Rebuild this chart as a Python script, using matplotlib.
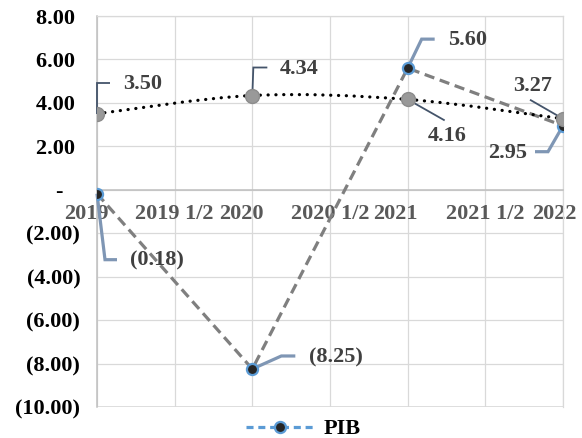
import matplotlib
matplotlib.use("Agg")
import matplotlib.pyplot as plt
import numpy as np
from matplotlib.lines import Line2D
from matplotlib.path import Path
from matplotlib.patches import PathPatch
from matplotlib.transforms import IdentityTransform, ScaledTranslation

plt.rcParams['font.family'] = ['Liberation Serif', 'DejaVu Serif']
plt.rcParams['font.weight'] = 'bold'

years = [2019, 2020, 2021, 2022]
pib = [-0.18, -8.25, 5.60, 2.95]
trend = [3.50, 4.34, 4.16, 3.27]

x_ticks = [2019, 2019.5, 2020, 2020.5, 2021, 2021.5, 2022]
x_labels = ["2019", "2019 1/2", "2020", "2020 1/2", "2021", "2021 1/2", "2022"]
x_label_shift = [-11, 0, -11, 0, -12, 0, -9]  # px, integer years sit left of the tick
y_ticks = [-10, -8, -6, -4, -2, 0, 2, 4, 6, 8]

# leader lines and label placement, pixel offsets from the point (y down)
pib_leaders = [
    [(0, 0), (8, 66), (20, 66)],
    [(0, 0), (29, -13), (43, -13)],
    [(0, 0), (14, -29), (27, -29)],
    [(0, 0), (-15, 26), (-28, 26)],
]
pib_text = [(33, 67, 'left'), (57, -12, 'left'), (40, -28, 'left'), (-36, 27, 'right')]
trend_leaders = [
    [(0, 0), (0, -31), (13, -31)],
    [(0, 0), (1, -28), (15, -28)],
    [(0, 0), (37, 21)],
    [(0, 0), (-33, -19)],
]
trend_text = [(26, -30, 'left'), (27, -27, 'left'), (20, 37, 'left'), (-11, -33, 'right')]

FS = 16


def acct(v):
    if abs(v) < 1e-9:
        return "-   "
    if v < 0:
        return "(%.2f)" % abs(v)
    return "%.2f " % v


def smooth_path(xs, ys):
    # catmull-rom through the points, as cubic bezier segments
    p = np.column_stack([xs, ys]).astype(float)
    ext = np.vstack([p[0], p, p[-1]])
    verts = [p[0]]
    codes = [Path.MOVETO]
    for i in range(len(p) - 1):
        p0, p1, p2, p3 = ext[i], ext[i + 1], ext[i + 2], ext[i + 3]
        c1 = p1 + (p2 - p0) / 6.0
        c2 = p2 - (p3 - p1) / 6.0
        verts += [c1, c2, p2]
        codes += [Path.CURVE4] * 3
    return Path(verts, codes)


def leader(ax, x, y, pts, color, lw):
    px, py = ax.transData.transform((x, y))
    xs = [px + d[0] for d in pts]
    ys = [py - d[1] for d in pts]
    ax.add_line(Line2D(xs, ys, transform=IdentityTransform(), color=color,
                       lw=lw, clip_on=False, zorder=3,
                       solid_capstyle='butt', solid_joinstyle='miter'))


fig = plt.figure(figsize=(5.82, 4.38), dpi=100)
ax = fig.add_axes([97 / 582, 31 / 438, 466 / 582, 391 / 438])
ax.set_xlim(2019, 2022)
ax.set_ylim(-10, 8)

ax.set_xticks(x_ticks)
ax.set_xticklabels(x_labels)
ax.set_yticks(y_ticks)
ax.set_yticklabels([acct(v) for v in y_ticks])
ax.grid(True, color='#d9d9d9', lw=0.9)
ax.set_axisbelow(True)
for s in ['top', 'right']:
    ax.spines[s].set_color('#d9d9d9')
    ax.spines[s].set_linewidth(0.9)
ax.spines['left'].set_color('#bfbfbf')
ax.spines['left'].set_linewidth(1.1)
ax.spines['bottom'].set_position(('data', 0))
ax.spines['bottom'].set_color('#bfbfbf')
ax.spines['bottom'].set_linewidth(1.1)
ax.axhline(-10, color='#d9d9d9', lw=1.2, zorder=0.5)
ax.tick_params(axis='both', length=0)
ax.tick_params(axis='y', pad=12, labelsize=FS, labelcolor='black')
ax.tick_params(axis='x', pad=10, labelsize=FS, labelcolor='#595959')
for lab, sh in zip(ax.get_xticklabels(), x_label_shift):
    lab.set_transform(lab.get_transform() + ScaledTranslation(sh / 100, 0, fig.dpi_scale_trans))

ax.plot(years, pib, color='#7f7f7f', lw=2.3, dashes=(3.2, 1.8), zorder=4)
ax.plot(years, pib, ls='none', marker='o', ms=8, mfc='#262626',
        mec='#5b9bd5', mew=1.6, zorder=5)

ax.add_patch(PathPatch(smooth_path(years, trend), fc='none', ec='black',
                       lw=2.3, ls=(0, (0.05, 2.4)), capstyle='round', zorder=6))
ax.plot(years, trend, ls='none', marker='o', ms=10, mfc='#999999',
        mec='#8c8c8c', mew=1, zorder=7)

for i in range(len(years)):
    leader(ax, years[i], pib[i], pib_leaders[i], '#7f96b4', 2.3)
    dx, dy, ha = pib_text[i]
    ax.annotate(acct(pib[i]).strip(), (years[i], pib[i]), xytext=(dx, -dy),
                textcoords='offset pixels', ha=ha, va='center',
                fontsize=FS, color='#404040', zorder=8)
    leader(ax, years[i], trend[i], trend_leaders[i], '#44546a', 1.3)
    dx, dy, ha = trend_text[i]
    ax.annotate(acct(trend[i]).strip(), (years[i], trend[i]), xytext=(dx, -dy),
                textcoords='offset pixels', ha=ha, va='center',
                fontsize=FS, color='#404040', zorder=8)

handle = Line2D([], [], color='#5b9bd5', lw=2.3, dashes=(2.2, 1.5),
                marker='o', ms=8, mfc='#262626', mec='#5b9bd5', mew=1.6)
fig.legend([handle], ['PIB'], loc='center', bbox_to_anchor=(303 / 582, 1 - 429 / 438),
           frameon=False, prop={'size': FS, 'weight': 'bold'},
           handlelength=3.1, handletextpad=0.4)

fig.savefig('out.png', dpi=100)
